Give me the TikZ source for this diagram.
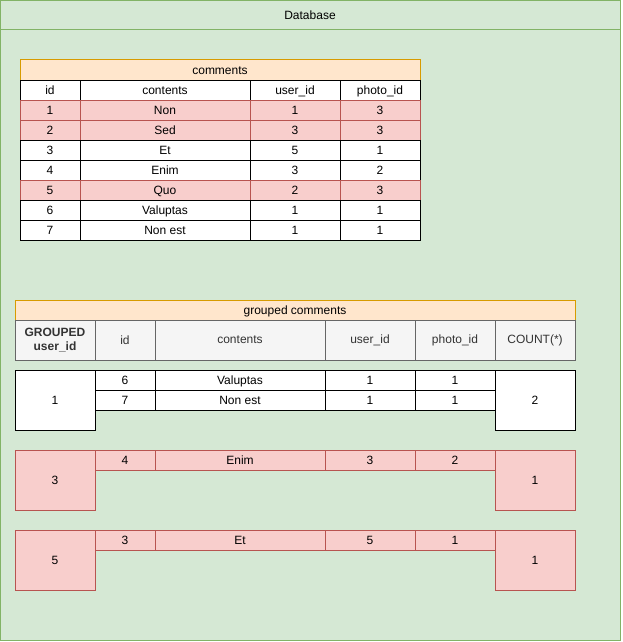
\documentclass[tikz,border=0pt]{standalone}
\usepackage{fontspec}
\setmainfont{Liberation Sans}
\usepackage{tikz}

\definecolor{dbfill}{HTML}{D5E8D4}
\definecolor{dbline}{HTML}{82B366}
\definecolor{tfill}{HTML}{FFE6CC}
\definecolor{tline}{HTML}{D79B00}
\definecolor{rfill}{HTML}{F8CECC}
\definecolor{rline}{HTML}{B85450}
\definecolor{hfill}{HTML}{F5F5F5}
\definecolor{hline}{HTML}{666666}
\definecolor{htext}{HTML}{333333}

\begin{document}
\begin{tikzpicture}[x=1pt, y=-1pt, line width=1pt,
  every node/.style={inner sep=0pt, outer sep=0pt, font=\fontsize{12}{14}\selectfont},
  cell/.style={draw, fill=white, minimum height=20pt, text height=8.6pt, text depth=0pt},
  redcell/.style={cell, draw=rline, fill=rfill},
  titlecell/.style={cell, draw=tline, fill=tfill},
  headcell/.style={draw=hline, fill=hfill, text=htext, minimum height=40pt, align=center},
  colid/.style={minimum width=60pt},
  colcont/.style={minimum width=170pt},
  coluser/.style={minimum width=90pt},
  colphoto/.style={minimum width=80pt},
  colside/.style={minimum width=80pt, minimum height=60pt}]
\useasboundingbox (0,0) rectangle (622,642);
% database container
\node [draw=dbline, fill=dbfill, minimum width=620pt, minimum height=640pt] (db) at (310.5,320.5) {};
\draw [dbline] (0.5,30) -- (620.5,30);
\node (dbtitle) at (310,15) {Database};

% comments table
\node [titlecell, minimum width=400pt] (ctitle) at (220,70) {comments};
\node [cell, colid] (chid) at (50,90) {id};
\node [cell, colcont] (chcont) at (165,90) {contents};
\node [cell, coluser] (chuser) at (295,90) {user\_id};
\node [cell, colphoto] (chphoto) at (380,90) {photo\_id};
\node [redcell, colid] (c1id) at (50,110) {1};
\node [redcell, colcont] (c1cont) at (165,110) {Non};
\node [redcell, coluser] (c1user) at (295,110) {1};
\node [redcell, colphoto] (c1photo) at (380,110) {3};
\node [redcell, colid] (c2id) at (50,130) {2};
\node [redcell, colcont] (c2cont) at (165,130) {Sed};
\node [redcell, coluser] (c2user) at (295,130) {3};
\node [redcell, colphoto] (c2photo) at (380,130) {3};
\node [cell, colid] (c3id) at (50,150) {3};
\node [cell, colcont] (c3cont) at (165,150) {Et};
\node [cell, coluser] (c3user) at (295,150) {5};
\node [cell, colphoto] (c3photo) at (380,150) {1};
\node [cell, colid] (c4id) at (50,170) {4};
\node [cell, colcont] (c4cont) at (165,170) {Enim};
\node [cell, coluser] (c4user) at (295,170) {3};
\node [cell, colphoto] (c4photo) at (380,170) {2};
\node [redcell, colid] (c5id) at (50,190) {5};
\node [redcell, colcont] (c5cont) at (165,190) {Quo};
\node [redcell, coluser] (c5user) at (295,190) {2};
\node [redcell, colphoto] (c5photo) at (380,190) {3};
\node [cell, colid] (c6id) at (50,210) {6};
\node [cell, colcont] (c6cont) at (165,210) {Valuptas};
\node [cell, coluser] (c6user) at (295,210) {1};
\node [cell, colphoto] (c6photo) at (380,210) {1};
\node [cell, colid] (c7id) at (50,230) {7};
\node [cell, colcont] (c7cont) at (165,230) {Non est};
\node [cell, coluser] (c7user) at (295,230) {1};
\node [cell, colphoto] (c7photo) at (380,230) {1};

% grouped comments table
\node [titlecell, minimum width=560pt] (gtitle) at (295,310) {grouped comments};
\node [headcell, minimum width=80pt, font=\fontsize{12}{14}\selectfont\bfseries] (ghgroup) at (55,340) {GROUPED\\user\_id};
\node [headcell, colid] (ghid) at (125,340) {id};
\node [headcell, colcont] (ghcont) at (240,340) {contents};
\node [headcell, coluser] (ghuser) at (370,340) {user\_id};
\node [headcell, colphoto] (ghphoto) at (455,340) {photo\_id};
\node [headcell, minimum width=80pt] (ghcount) at (535,340) {COUNT(*)};

% group user_id 1
\node [cell, colside] (g1key) at (55,400) {1};
\node [cell, colid] (g1aid) at (125,380) {6};
\node [cell, colcont] (g1acont) at (240,380) {Valuptas};
\node [cell, coluser] (g1auser) at (370,380) {1};
\node [cell, colphoto] (g1aphoto) at (455,380) {1};
\node [cell, colid] (g1bid) at (125,400) {7};
\node [cell, colcont] (g1bcont) at (240,400) {Non est};
\node [cell, coluser] (g1buser) at (370,400) {1};
\node [cell, colphoto] (g1bphoto) at (455,400) {1};
\node [cell, colside] (g1count) at (535,400) {2};

% group user_id 3
\node [redcell, colside] (g3key) at (55,480) {3};
\node [redcell, colid] (g3id) at (125,460) {4};
\node [redcell, colcont] (g3cont) at (240,460) {Enim};
\node [redcell, coluser] (g3user) at (370,460) {3};
\node [redcell, colphoto] (g3photo) at (455,460) {2};
\node [redcell, colside] (g3count) at (535,480) {1};

% group user_id 5
\node [redcell, colside] (g5key) at (55,560) {5};
\node [redcell, colid] (g5id) at (125,540) {3};
\node [redcell, colcont] (g5cont) at (240,540) {Et};
\node [redcell, coluser] (g5user) at (370,540) {5};
\node [redcell, colphoto] (g5photo) at (455,540) {1};
\node [redcell, colside] (g5count) at (535,560) {1};
\end{tikzpicture}
\end{document}
